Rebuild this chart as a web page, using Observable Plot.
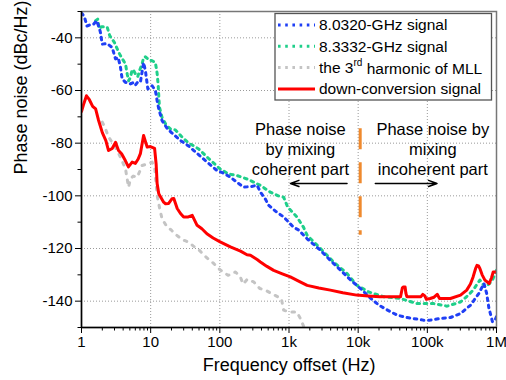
<!DOCTYPE html>
<html><head><meta charset="utf-8">
<script src="https://cdn.jsdelivr.net/npm/d3@7"></script>
<script src="https://cdn.jsdelivr.net/npm/@observablehq/plot@0.6"></script>
<style>
body{margin:0;background:#fff;}
#chart{width:506px;height:380px;}
</style></head><body><div id="chart"></div>
<script>
// ---- Data (frequency offset in Hz, phase noise in dBc/Hz) ----
const seriesNames = ["8.0320-GHz signal", "8.3332-GHz signal", "the 3rd harmonic of MLL", "down-conversion signal"];

const blueF = [1.0,1.1,1.2,1.35,1.5,1.65,1.8,1.88,1.99,2.35,2.78,3.1,3.4,3.66,3.87,4.33,5.1,5.6,6.0,6.4,7.1,7.5,7.9,8.4,9.1,10.5,11.7,12.4,13.1,14.6,17.3,20,27,35,42,58,75,91,115,142,180,220,280,346,386,450,509,650,836,1160,1380,1830,2850,3960,5600,7800,11400,15000,19900,27000,36600,50000,63000,87000,110000,150000,216000,302000,422000,554000,658000,720000,775000,874000,940000,1000000];
const blueV = [-30.5,-32,-35.5,-35,-34.8,-33.5,-36,-38,-42.4,-42.2,-43.7,-48,-47.5,-51.2,-55.6,-56.9,-57.5,-57,-58,-57,-56.9,-53.1,-49.4,-52.5,-59.4,-58.2,-60,-63.9,-67,-71.4,-74.4,-76,-79,-81,-82.8,-86,-88.5,-90.4,-91.5,-92.9,-95,-96.7,-96.5,-96,-98.6,-101,-103.6,-106,-108,-111.9,-113,-116.3,-120.7,-124.5,-128.3,-132,-135.8,-138.8,-141.5,-143.5,-145.3,-146.2,-146.6,-147.2,-147.2,-146.6,-146.2,-144.7,-141.5,-137.1,-133.3,-137,-142.5,-147.8,-147.5,-145.9];

const greenF = [1.6,1.72,1.8,1.95,2.35,2.56,3.0,3.46,3.9,4.33,4.6,4.8,5.1,5.4,5.7,6.1,6.5,7.0,7.5,7.9,8.4,9.5,10.5,11.7,12.4,12.8,13.4,14.6,16.9,19.3,22.8,28,34.4,49.5,70,101,134,177,247,386,535,700,836,958,1300,1620,1830,2850,4400,6900,9500,14200,23300,41000,70000,123000,193000,302000,380000,459000,575000,680000,780000,874000,1000000];
const greenV = [-33.5,-32.9,-36.5,-35.8,-35.9,-39.2,-41.8,-45.6,-48,-50,-54,-56.3,-55,-52.1,-52.5,-54,-54.8,-52,-50,-47.5,-47.2,-48.5,-48.7,-49.4,-53.5,-57.5,-66.4,-70.2,-73.3,-74.6,-75,-77.5,-79.7,-82.2,-86,-89.8,-91.7,-92.3,-93.6,-96,-98.6,-100,-100.5,-104.3,-108,-111.9,-115,-120,-125.1,-129.5,-133.9,-136.5,-138.3,-139,-140.9,-140.9,-141.9,-140.3,-138,-135.8,-132,-134.6,-133.5,-132,-128.3];

const greyF = [2.0,2.22,2.48,3.0,3.46,3.9,4.33,4.6,4.8,5.1,5.6,6.4,7.0,7.5,8.9,10.5,11.5,12.4,13.5,14.6,17.3,19.7,22.8,28.5,36.7,41,50.6,64,81.6,99.8,131.6,168,198,217,249,309,378,455,540,650,775,836,1000,1300,1460,1600,1700];
const greyV = [-72,-74.6,-77.8,-81,-84,-87,-89.8,-94,-96.7,-93.5,-92.5,-92.9,-90.5,-88.5,-87.9,-87.2,-90,-99.8,-104.8,-108.7,-111.9,-112.9,-114.6,-116.6,-117.8,-119,-120.7,-123.4,-125.7,-128,-130.2,-128.9,-130.8,-133.5,-131.7,-132.7,-135.2,-135.8,-136.9,-138,-139,-143.4,-144.1,-144.1,-146.6,-149.1,-151];

const redF = [1,1.08,1.18,1.3,1.45,1.6,1.75,2.0,2.25,2.46,2.78,3.1,3.43,3.8,4.3,4.77,5.4,6.0,6.6,7.1,7.9,8.9,9.9,11.4,12.0,12.4,13.1,14.0,15.4,16.4,18.2,20.4,21.6,24.2,27,30,35,39.9,46.9,55,65,80,101,142,199,247,277,346,386,480,600,800,1045,1400,1830,2700,3960,6000,9500,14000,20600,30000,41000,43500,44800,47700,49000,50600,65000,80800,86000,92000,97000,110000,125000,139000,150000,216000,302000,371000,420000,459000,500000,522000,550000,575000,620000,680000,783000,850000,896000,1000000];
const redV = [-68,-65,-62,-63.5,-66,-67,-71,-76,-79,-82.8,-82,-79.7,-82.8,-84,-86.6,-89,-87.2,-87.7,-86,-84,-77.1,-81.5,-81.3,-82,-88,-95.3,-99.2,-100.5,-102.4,-103,-102.9,-101.1,-101,-104.8,-106.7,-108,-108,-107.4,-111.2,-112.5,-114.4,-116,-117.5,-119.4,-121,-122.4,-122.6,-124.2,-125.1,-126.8,-128.3,-129.6,-130.8,-132.5,-134,-135,-135.8,-136.8,-137.7,-138,-138.3,-138.3,-138.3,-135,-134.6,-134.6,-137,-138.3,-138.3,-138.3,-137.4,-138,-139.3,-139,-138.5,-137.4,-139,-139,-137.7,-135.8,-133.5,-130.8,-127.5,-126.4,-126.6,-127.6,-130,-132,-133.3,-131,-128.9,-128.9];

// axes ticks
const xMajor = [1,10,100,1e3,1e4,1e5,1e6];
const xLabels = ["1","10","100","1k","10k","100k","1M"];
const xMinor = xMajor.slice(0,-1).flatMap(d => [2,3,4,5,6,7,8,9].map(k => k*d));
const yMajor = [-40,-60,-80,-100,-120,-140];
const yLabels = ["-40","-60","-80","-100","-120","-140"];
const yMinor = [-30,-50,-70,-90,-110,-130,-150];

// annotations
const annotText = ["Phase noise\nby mixing\ncoherent part", "Phase noise by\nmixing\nincoherent part"];
const annotX = [1460, 120000];
const annotY = [-82, -82];
const arrowX1 = [6900, 17700];
const arrowX2 = [1050, 138000];
const arrowY = [-95.3, -95.3];
const divideX = [10700];
const divideY = [-74.5, -115];

const rows = (F, V) => F.map((f, i) => ({f, v: V[i]}));
const blue = rows(blueF, blueV), green = rows(greenF, greenV), grey = rows(greyF, greyV), red = rows(redF, redV);

const colors = ["#1f3ff5", "#1fcf8a", "#c4c4c4", "#ff0000"];
const dotted = "2.6,4.6";
const font = "Arial, 'Liberation Sans', Helvetica, sans-serif";

const svg = Plot.plot({
  width: 506, height: 380,
  marginLeft: 81, marginRight: 10, marginTop: 11, marginBottom: 53,
  style: {fontFamily: font, background: "white", color: "black"},
  x: {type: "log", domain: [1, 1e6]},
  y: {domain: [-150, -30]},
  marks: [
    Plot.gridX(xMajor.slice(1, -1), {stroke: "#9a9a9a", strokeOpacity: 1, strokeDasharray: "1,2"}),
    Plot.gridY(yMajor, {stroke: "#9a9a9a", strokeOpacity: 1, strokeDasharray: "1,2"}),
    Plot.line(grey, {x: "f", y: "v", stroke: colors[2], strokeWidth: 3, strokeDasharray: "2.6,6.5", clip: true}),
    Plot.line(green, {x: "f", y: "v", stroke: colors[1], strokeWidth: 3, strokeDasharray: dotted, clip: true}),
    Plot.line(blue, {x: "f", y: "v", stroke: colors[0], strokeWidth: 3, strokeDasharray: dotted, clip: true}),
    Plot.line(red, {x: "f", y: "v", stroke: colors[3], strokeWidth: 3, clip: true}),
    Plot.ruleX(divideX, {y1: divideY[0], y2: divideY[1], stroke: "#ef8a2e", strokeWidth: 3, strokeDasharray: "21,13"}),
    Plot.text(annotText, {x: (d, i) => annotX[i], y: (d, i) => annotY[i], text: d => d, fontSize: 16.5, lineHeight: 1.24, fill: "black"}),
    Plot.arrow(arrowX1, {x1: d => d, x2: (d, i) => arrowX2[i], y1: (d, i) => arrowY[i], y2: (d, i) => arrowY[i], stroke: "black", strokeWidth: 1.5, headLength: 9, headAngle: 40}),
    Plot.frame({stroke: "#777", strokeWidth: 1.5}),
    Plot.ruleX([1], {stroke: "black", strokeWidth: 1.5}),
    Plot.ruleY([-150], {stroke: "black", strokeWidth: 1.5}),
    Plot.axisX(xMajor, {tickSize: 6, tickPadding: 3, fontSize: 15, tickFormat: d => xLabels[xMajor.indexOf(d)], label: null}),
    Plot.axisX(xMinor, {tickSize: 3.5, tickFormat: () => "", label: null}),
    Plot.axisY(yMajor, {tickSize: 6, tickPadding: 3, fontSize: 15, tickFormat: d => yLabels[yMajor.indexOf(d)], label: null}),
    Plot.axisY(yMinor, {tickSize: 3.5, tickFormat: () => "", label: null}),
    Plot.text(["Frequency offset (Hz)"], {frameAnchor: "bottom", dy: 43, fontSize: 18, fill: "black"}),
    Plot.text(["Phase noise (dBc/Hz)"], {frameAnchor: "left", dx: -60, dy: 5, rotate: -90, fontSize: 18, fill: "black"})
  ]
});
document.getElementById("chart").appendChild(svg);

// ---- Legend (inside the plot, top right) ----
const lg = d3.select(svg).append("g").attr("font-family", font).attr("font-size", 15.5).attr("text-anchor", "start");
lg.append("rect").attr("x", 275).attr("y", 13.5).attr("width", 216.5).attr("height", 86.5)
  .attr("fill", "white").attr("stroke", "#555").attr("stroke-width", 1.3);
const dashes = [dotted, dotted, dotted, null];
seriesNames.forEach((name, i) => {
  const yy = 25 + i * 21.3;
  const ln = lg.append("line").attr("x1", 278).attr("x2", 315).attr("y1", yy).attr("y2", yy)
    .attr("stroke", colors[i]).attr("stroke-width", 3);
  if (dashes[i]) ln.attr("stroke-dasharray", dashes[i]);
  const t = lg.append("text").attr("x", 319).attr("y", yy).attr("dy", "0.35em").attr("fill", "black").attr("text-anchor", "start");
  if (i === 2) {
    t.append("tspan").text("the 3");
    t.append("tspan").attr("font-size", 10).attr("dy", "-0.75em").text("rd");
    t.append("tspan").attr("dy", "0.55em").text(" harmonic of MLL");
  } else {
    t.text(name);
  }
});
</script></body></html>
